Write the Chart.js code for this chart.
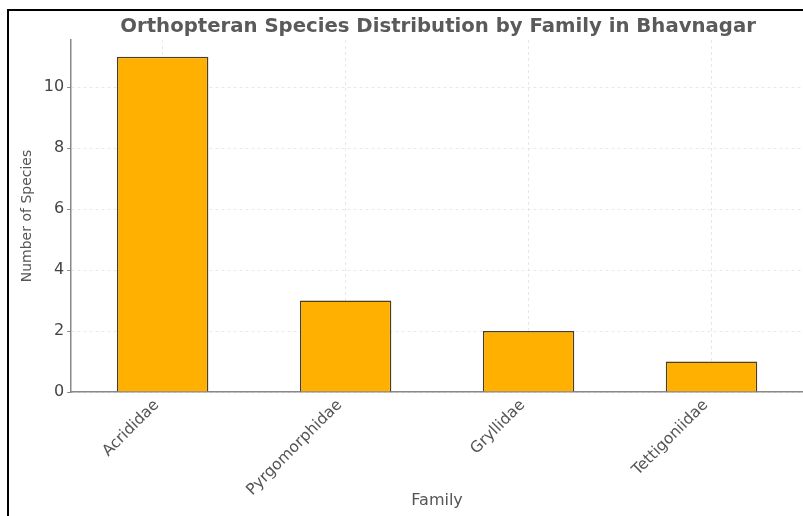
<!DOCTYPE html>
<html>
<head>
<meta charset="utf-8">
<script src="https://cdn.jsdelivr.net/npm/chart.js@4"></script>
<style>
  body { margin: 0; background: #fff; }
  #wrap { position: relative; width: 803px; height: 516px; }
</style>
</head>
<body>
<div id="wrap"><canvas id="myChart" width="803" height="516"></canvas></div>
<script>
var families = ['Acrididae', 'Pyrgomorphidae', 'Gryllidae', 'Tettigoniidae'];
var speciesCounts = [11, 3, 2, 1];
var yStep = 2;
var yMax = 11.55;
var chartTitle = 'Orthopteran Species Distribution by Family in Bhavnagar';

// title centred over the plot area (like matplotlib), plus the black frame
var decorPlugin = {
  id: 'decor',
  afterDraw: function (chart) {
    var c = chart.ctx;
    var a = chart.chartArea;
    c.save();
    c.fillStyle = '#5a5a5a';
    c.font = 'bold 19.7px "DejaVu Sans"';
    c.textAlign = 'center';
    c.textBaseline = 'middle';
    c.fillText(chartTitle, (a.left + a.right) / 2 + 1, 27);
    c.strokeStyle = '#000';
    c.lineWidth = 2;
    c.beginPath();
    c.moveTo(8, 516);
    c.lineTo(8, 10);
    c.lineTo(803, 10);
    c.stroke();
    c.restore();
  }
};

var ctx = document.getElementById('myChart').getContext('2d');
var chart = new Chart(ctx, {
    type: 'bar',
    data: {
        labels: families,
        datasets: [{
          label: 'Number of Species',
          backgroundColor: '#FFB000',
          borderColor: '#4a3f22',
          borderWidth: 1.5,
          barPercentage: 0.5,
          categoryPercentage: 1.0,
          data: speciesCounts
        }]
    },
    options: {
      responsive: false,
      animation: false,
      layout: { padding: { left: 19, right: 0, top: 40, bottom: 0 } },
      plugins: {
        legend: { display: false },
        tooltip: { enabled: false },
        title: { display: false }
      },
      scales: {
        x: {
          z: 1,
          offset: true,
          afterFit: function (scale) { scale.height = 124; },
          grid: {
            offset: false,
            color: 'rgba(220,220,220,0.65)',
            lineWidth: 1,
            drawTicks: false,
            tickLength: 0
          },
          border: { display: true, color: '#888', width: 1.5, dash: [3, 3] },
          ticks: {
            color: '#555',
            font: { family: 'DejaVu Sans', size: 15.5 },
            maxRotation: 45,
            minRotation: 45,
            labelOffset: -6,
            padding: 4
          },
          title: {
            display: true,
            text: 'Family',
            color: '#555',
            font: { family: 'DejaVu Sans', size: 16 },
            padding: { top: 0, bottom: 6 }
          }
        },
        y: {
          z: 1,
          min: 0,
          max: yMax,
          grid: {
            color: 'rgba(220,220,220,0.65)',
            lineWidth: 1,
            tickColor: '#888',
            tickLength: 4,
            tickBorderDash: []
          },
          border: { display: true, color: '#888', width: 1.5, dash: [3, 3] },
          ticks: {
            stepSize: yStep,
            includeBounds: false,
            color: '#444',
            font: { family: 'DejaVu Sans', size: 16 },
            padding: 3
          },
          title: {
            display: true,
            text: 'Number of Species',
            color: '#555',
            font: { family: 'DejaVu Sans', size: 14 },
            padding: { top: 0, bottom: 5 }
          }
        }
      }
    },
    plugins: [decorPlugin]
});
</script>
</body>
</html>
